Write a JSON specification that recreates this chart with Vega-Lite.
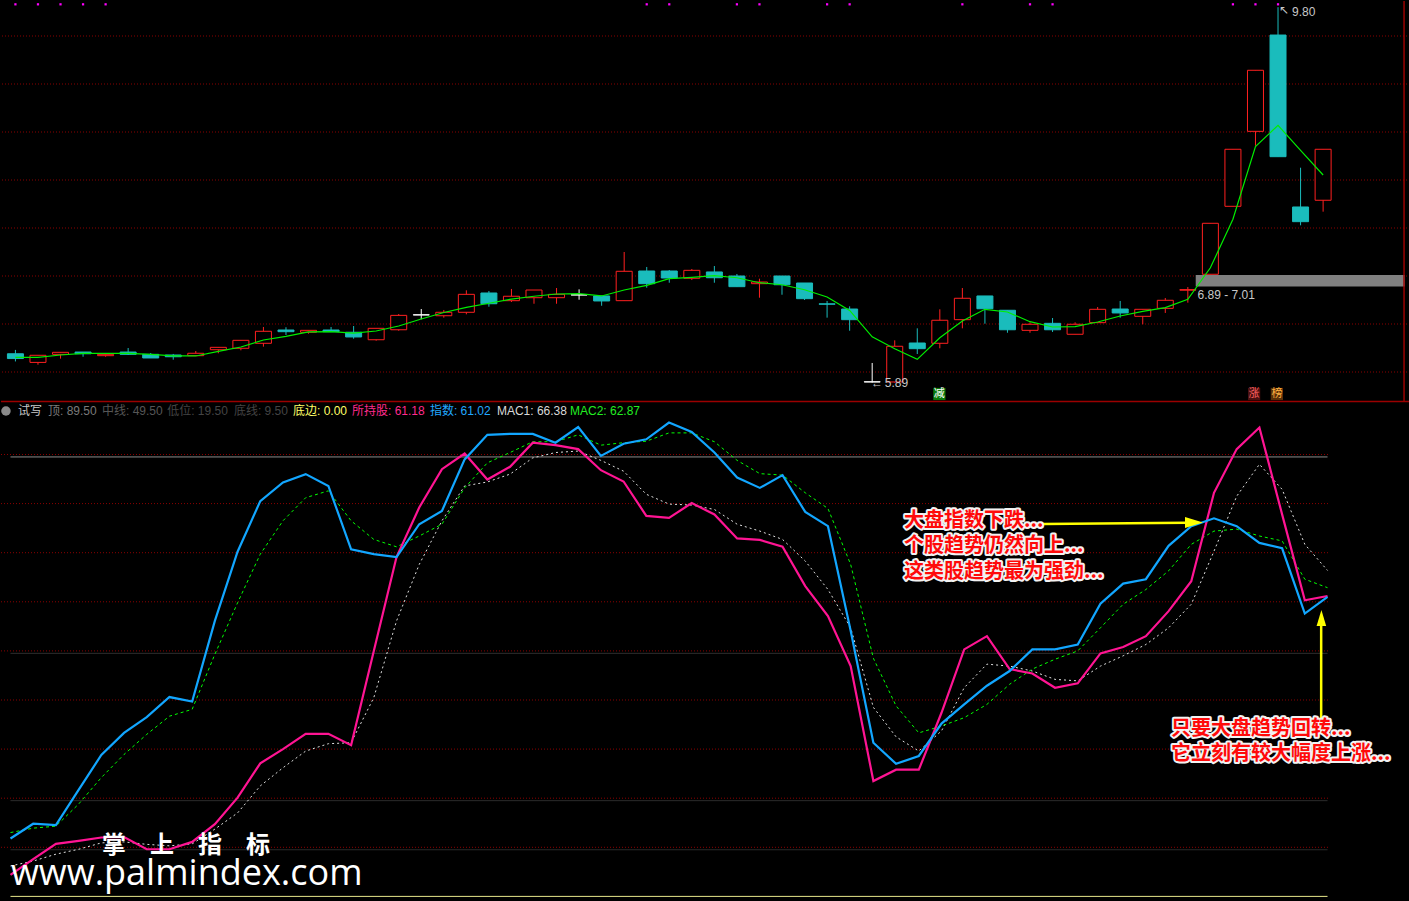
{
  "$schema": "https://vega.github.io/schema/vega-lite/v6.json",
  "background": "#000000",
  "padding": 0,
  "spacing": 0,
  "bounds": "flush",
  "config": {"view": {"stroke": null}, "concat": {"spacing": 0}},
  "datasets": {
    "k": [
      {"i":0,"o":6.19,"c":6.14,"h":6.23,"l":6.11,"d":"down","ma":6.153},
      {"i":1,"o":6.10,"c":6.174,"h":6.174,"l":6.076,"d":"up","ma":6.153},
      {"i":2,"o":6.184,"c":6.205,"h":6.205,"l":6.139,"d":"up","ma":6.177},
      {"i":3,"o":6.208,"c":6.19,"h":6.208,"l":6.159,"d":"down","ma":6.195},
      {"i":4,"o":6.17,"c":6.184,"h":6.184,"l":6.159,"d":"up","ma":6.195},
      {"i":5,"o":6.208,"c":6.184,"h":6.25,"l":6.177,"d":"down","ma":6.195},
      {"i":6,"o":6.184,"c":6.146,"h":6.198,"l":6.146,"d":"down","ma":6.184},
      {"i":7,"o":6.177,"c":6.159,"h":6.188,"l":6.128,"d":"down","ma":6.167},
      {"i":8,"o":6.17,"c":6.195,"h":6.219,"l":6.17,"d":"up","ma":6.167},
      {"i":9,"o":6.232,"c":6.257,"h":6.257,"l":6.195,"d":"up","ma":6.214},
      {"i":10,"o":6.247,"c":6.33,"h":6.33,"l":6.226,"d":"up","ma":6.26},
      {"i":11,"o":6.299,"c":6.424,"h":6.469,"l":6.264,"d":"up","ma":6.333},
      {"i":12,"o":6.4375,"c":6.42,"h":6.466,"l":6.385,"d":"down","ma":6.372},
      {"i":13,"o":6.414,"c":6.434,"h":6.434,"l":6.399,"d":"up","ma":6.417},
      {"i":14,"o":6.4375,"c":6.42,"h":6.469,"l":6.42,"d":"down","ma":6.42},
      {"i":15,"o":6.414,"c":6.365,"h":6.479,"l":6.347,"d":"down","ma":6.406},
      {"i":16,"o":6.336,"c":6.455,"h":6.455,"l":6.326,"d":"up","ma":6.427},
      {"i":17,"o":6.44,"c":6.59,"h":6.604,"l":6.43,"d":"up","ma":6.479},
      {"i":18,"o":6.594,"c":6.596,"h":6.656,"l":6.549,"d":"flat","ma":6.552},
      {"i":19,"o":6.586,"c":6.622,"h":6.646,"l":6.566,"d":"up","ma":6.62},
      {"i":20,"o":6.622,"c":6.809,"h":6.851,"l":6.601,"d":"up","ma":6.674},
      {"i":21,"o":6.823,"c":6.711,"h":6.844,"l":6.68,"d":"down","ma":6.716},
      {"i":22,"o":6.743,"c":6.789,"h":6.865,"l":6.729,"d":"up","ma":6.76},
      {"i":23,"o":6.774,"c":6.854,"h":6.854,"l":6.711,"d":"up","ma":6.789},
      {"i":24,"o":6.774,"c":6.809,"h":6.875,"l":6.711,"d":"up","ma":6.8125},
      {"i":25,"o":6.802,"c":6.804,"h":6.861,"l":6.753,"d":"flat","ma":6.816},
      {"i":26,"o":6.792,"c":6.74,"h":6.792,"l":6.69,"d":"down","ma":6.792},
      {"i":27,"o":6.743,"c":7.049,"h":7.25,"l":6.743,"d":"up","ma":6.854},
      {"i":28,"o":7.052,"c":6.92,"h":7.094,"l":6.878,"d":"down","ma":6.903},
      {"i":29,"o":7.052,"c":6.979,"h":7.0625,"l":6.93,"d":"down","ma":6.972},
      {"i":30,"o":6.976,"c":7.059,"h":7.073,"l":6.958,"d":"up","ma":6.986},
      {"i":31,"o":7.042,"c":6.982,"h":7.104,"l":6.93,"d":"down","ma":7.003},
      {"i":32,"o":7.0,"c":6.889,"h":7.021,"l":6.889,"d":"down","ma":6.982},
      {"i":33,"o":6.92,"c":6.9375,"h":6.972,"l":6.774,"d":"up","ma":6.93},
      {"i":34,"o":7.0,"c":6.909,"h":7.0,"l":6.805,"d":"down","ma":6.909},
      {"i":35,"o":6.927,"c":6.764,"h":6.927,"l":6.75,"d":"down","ma":6.857},
      {"i":36,"o":6.71,"c":6.706,"h":6.74,"l":6.566,"d":"down","ma":6.781},
      {"i":37,"o":6.656,"c":6.545,"h":6.684,"l":6.43,"d":"down","ma":6.641},
      {"i":38,"o":5.898,"c":5.896,"h":6.094,"l":5.89,"d":"flat","ma":6.367},
      {"i":39,"o":5.896,"c":6.268,"h":6.33,"l":5.89,"d":"up","ma":6.243},
      {"i":40,"o":6.302,"c":6.243,"h":6.455,"l":6.1875,"d":"down","ma":6.132},
      {"i":41,"o":6.299,"c":6.539,"h":6.653,"l":6.247,"d":"up","ma":6.357},
      {"i":42,"o":6.545,"c":6.768,"h":6.875,"l":6.455,"d":"up","ma":6.531},
      {"i":43,"o":6.792,"c":6.659,"h":6.792,"l":6.503,"d":"down","ma":6.653},
      {"i":44,"o":6.643,"c":6.44,"h":6.643,"l":6.409,"d":"down","ma":6.625},
      {"i":45,"o":6.434,"c":6.497,"h":6.517,"l":6.409,"d":"up","ma":6.524},
      {"i":46,"o":6.507,"c":6.44,"h":6.5625,"l":6.417,"d":"down","ma":6.469},
      {"i":47,"o":6.393,"c":6.497,"h":6.517,"l":6.393,"d":"up","ma":6.472},
      {"i":48,"o":6.514,"c":6.653,"h":6.677,"l":6.514,"d":"up","ma":6.521},
      {"i":49,"o":6.656,"c":6.615,"h":6.74,"l":6.566,"d":"down","ma":6.583},
      {"i":50,"o":6.58,"c":6.653,"h":6.653,"l":6.497,"d":"up","ma":6.632},
      {"i":51,"o":6.663,"c":6.747,"h":6.771,"l":6.615,"d":"up","ma":6.67},
      {"i":52,"o":6.852,"c":6.858,"h":6.885,"l":6.722,"d":"up","ma":6.757},
      {"i":53,"o":7.018,"c":7.549,"h":7.549,"l":7.018,"d":"up","ma":7.086},
      {"i":54,"o":7.726,"c":8.32,"h":8.32,"l":7.726,"d":"up","ma":7.591},
      {"i":55,"o":8.507,"c":9.143,"h":9.143,"l":8.357,"d":"up","ma":8.347},
      {"i":56,"o":9.51,"c":8.243,"h":9.80,"l":8.243,"d":"down","ma":8.57},
      {"i":57,"o":7.719,"c":7.566,"h":8.128,"l":7.528,"d":"down","ma":8.309},
      {"i":58,"o":7.789,"c":8.32,"h":8.32,"l":7.67,"d":"up","ma":8.052}
    ],
    "ind": [
      {"i":0,"s":4.4,"z":11.8,"m1":6.2,"m2":13.0},
      {"i":1,"s":7.6,"z":14.8,"m1":7.2,"m2":13.9},
      {"i":2,"s":10.7,"z":14.5,"m1":8.6,"m2":14.3},
      {"i":3,"s":11.3,"z":21.7,"m1":9.6,"m2":18.8},
      {"i":4,"s":12.0,"z":28.8,"m1":10.9,"m2":24.2},
      {"i":5,"s":12.1,"z":33.3,"m1":11.1,"m2":28.9},
      {"i":6,"s":9.6,"z":36.5,"m1":10.6,"m2":33.0},
      {"i":7,"s":9.6,"z":40.6,"m1":10.3,"m2":36.7},
      {"i":8,"s":11.1,"z":39.7,"m1":10.7,"m2":38.1},
      {"i":9,"s":14.7,"z":56.1,"m1":13.7,"m2":49.3},
      {"i":10,"s":20.1,"z":70.2,"m1":17.0,"m2":59.8},
      {"i":11,"s":27.1,"z":80.5,"m1":22.5,"m2":69.7},
      {"i":12,"s":30.0,"z":84.3,"m1":26.2,"m2":76.5},
      {"i":13,"s":33.1,"z":86.0,"m1":29.6,"m2":81.2},
      {"i":14,"s":33.1,"z":83.6,"m1":31.1,"m2":82.6},
      {"i":15,"s":30.8,"z":70.7,"m1":31.3,"m2":76.5},
      {"i":16,"s":50.0,"z":69.7,"m1":40.5,"m2":72.7},
      {"i":17,"s":69.1,"z":69.1,"m1":56.1,"m2":71.2},
      {"i":18,"s":79.2,"z":75.8,"m1":67.6,"m2":73.4},
      {"i":19,"s":87.0,"z":78.5,"m1":76.5,"m2":75.8},
      {"i":20,"s":90.2,"z":89.0,"m1":83.6,"m2":83.2},
      {"i":21,"s":84.9,"z":94.0,"m1":84.4,"m2":88.3},
      {"i":22,"s":87.5,"z":94.2,"m1":86.0,"m2":90.4},
      {"i":23,"s":92.4,"z":94.2,"m1":89.3,"m2":92.6},
      {"i":24,"s":91.9,"z":92.4,"m1":90.4,"m2":92.6},
      {"i":25,"s":91.1,"z":95.6,"m1":90.7,"m2":94.0},
      {"i":26,"s":86.8,"z":89.7,"m1":88.8,"m2":91.9},
      {"i":27,"s":84.5,"z":92.2,"m1":86.6,"m2":92.4},
      {"i":28,"s":77.5,"z":93.1,"m1":81.9,"m2":92.7},
      {"i":29,"s":77.1,"z":96.5,"m1":79.9,"m2":94.4},
      {"i":30,"s":80.1,"z":94.6,"m1":79.7,"m2":94.4},
      {"i":31,"s":77.8,"z":90.4,"m1":78.8,"m2":92.6},
      {"i":32,"s":72.9,"z":85.3,"m1":75.8,"m2":88.8},
      {"i":33,"s":72.6,"z":83.2,"m1":74.4,"m2":86.1},
      {"i":34,"s":71.2,"z":85.8,"m1":72.7,"m2":85.8},
      {"i":35,"s":63.2,"z":78.3,"m1":68.3,"m2":82.2},
      {"i":36,"s":57.1,"z":75.4,"m1":62.5,"m2":79.0},
      {"i":37,"s":46.9,"z":54.1,"m1":54.7,"m2":67.6},
      {"i":38,"s":23.5,"z":31.3,"m1":38.5,"m2":48.5},
      {"i":39,"s":25.8,"z":27.0,"m1":32.5,"m2":38.8},
      {"i":40,"s":25.8,"z":28.6,"m1":29.6,"m2":33.3},
      {"i":41,"s":37.4,"z":35.2,"m1":33.7,"m2":34.7},
      {"i":42,"s":50.3,"z":39.1,"m1":42.5,"m2":36.4},
      {"i":43,"s":53.0,"z":42.9,"m1":47.3,"m2":39.1},
      {"i":44,"s":46.3,"z":45.9,"m1":46.9,"m2":43.2},
      {"i":45,"s":45.4,"z":50.3,"m1":45.9,"m2":46.3},
      {"i":46,"s":42.5,"z":50.3,"m1":44.2,"m2":48.3},
      {"i":47,"s":43.4,"z":51.3,"m1":43.9,"m2":50.0},
      {"i":48,"s":49.5,"z":59.6,"m1":46.9,"m2":54.7},
      {"i":49,"s":50.8,"z":63.7,"m1":49.0,"m2":59.5},
      {"i":50,"s":53.0,"z":64.6,"m1":51.3,"m2":62.5},
      {"i":51,"s":58.1,"z":71.4,"m1":54.7,"m2":66.3},
      {"i":52,"s":64.2,"z":75.4,"m1":59.5,"m2":71.7},
      {"i":53,"s":82.2,"z":77.0,"m1":70.3,"m2":74.4},
      {"i":54,"s":91.1,"z":75.4,"m1":81.5,"m2":74.8},
      {"i":55,"s":95.5,"z":72.0,"m1":88.0,"m2":73.4},
      {"i":56,"s":77.8,"z":70.9,"m1":82.9,"m2":72.4},
      {"i":57,"s":60.3,"z":57.6,"m1":71.7,"m2":64.6},
      {"i":58,"s":61.18,"z":61.02,"m1":66.38,"m2":62.87}
    ],
    "pg": [{"p":6.0},{"p":6.5},{"p":7.0},{"p":7.5},{"p":8.0},{"p":8.5},{"p":9.0},{"p":9.5}],
    "ig": [{"v":10},{"v":20},{"v":30},{"v":40},{"v":50},{"v":60},{"v":70},{"v":80},{"v":90}],
    "lv": [{"v":89.5,"k":"top"},{"v":49.5,"k":"mid"},{"v":19.5,"k":"low"},{"v":9.5,"k":"low"},{"v":0,"k":"base"}],
    "mk": [{"i":0},{"i":1},{"i":2},{"i":3},{"i":4},{"i":28},{"i":29},{"i":32},{"i":33},{"i":36},{"i":37},{"i":42},{"i":45},{"i":46},{"i":54},{"i":55},{"i":56}],
    "hdr": [
      {"i":0.33,"t":"试写","k":"a"},
      {"i":1.65,"t":"顶: 89.50","k":"g1"},
      {"i":4.03,"t":"中线: 49.50","k":"g2"},
      {"i":6.9,"t":"低位: 19.50","k":"g3"},
      {"i":9.84,"t":"底线: 9.50","k":"g3"},
      {"i":12.44,"t":"底边: 0.00","k":"y"},
      {"i":15.04,"t":"所持股: 61.18","k":"m"},
      {"i":18.47,"t":"指数: 61.02","k":"b"},
      {"i":21.42,"t":"MAC1: 66.38","k":"w"},
      {"i":24.64,"t":"MAC2: 62.87","k":"g"}
    ],
    "ann": [
      {"i":39.35,"v":76.45,"t":"大盘指数下跌..."},
      {"i":39.35,"v":71.36,"t":"个股趋势仍然向上..."},
      {"i":39.35,"v":66.07,"t":"这类股趋势最为强劲..."},
      {"i":51.11,"v":34.09,"t":"只要大盘趋势回转..."},
      {"i":51.11,"v":29.0,"t":"它立刻有较大幅度上涨..."}
    ],
    "tags": [
      {"i":40.98,"t":"减","k":"jian"},
      {"i":54.94,"t":"涨","k":"zhang"},
      {"i":55.95,"t":"榜","k":"bang"}
    ]
  },
  "vconcat": [
    {
      "width": 1409,
      "height": 401,
      "resolve": {"scale": {"color": "independent", "fill": "independent", "stroke": "independent"}},
      "layer": [
        {
          "data": {"name": "pg"},
          "mark": {"type": "rule", "color": "#8a0000", "strokeWidth": 1, "strokeDash": [1, 2]},
          "encoding": {
            "y": {"field": "p", "type": "quantitative", "scale": {"domain": [5.6875, 9.8646], "nice": false, "zero": false}, "axis": null}
          }
        },
        {
          "data": {"values": [{"a": 52.35, "b": 61.632, "lo": 6.89, "hi": 7.01}]},
          "mark": {"type": "rect", "color": "#808080"},
          "encoding": {
            "x": {"field": "a", "type": "quantitative", "scale": {"domain": [-0.418, 61.632], "nice": false, "zero": false}, "axis": null},
            "x2": {"field": "b"},
            "y": {"field": "lo", "type": "quantitative", "scale": {"domain": [5.6875, 9.8646], "nice": false, "zero": false}, "axis": null},
            "y2": {"field": "hi"}
          }
        },
        {
          "data": {"name": "k"},
          "mark": {"type": "rule", "strokeWidth": 1},
          "encoding": {
            "x": {"field": "i", "type": "quantitative", "scale": {"domain": [-0.418, 61.632], "nice": false, "zero": false}, "axis": null},
            "y": {"field": "l", "type": "quantitative", "scale": {"domain": [5.6875, 9.8646], "nice": false, "zero": false}, "axis": null},
            "y2": {"field": "h"},
            "color": {"field": "d", "type": "nominal", "scale": {"domain": ["up", "down", "flat"], "range": ["#ff2020", "#1abcbc", "#ffffff"]}, "legend": null}
          }
        },
        {
          "data": {"name": "k"},
          "mark": {"type": "bar", "size": 16, "strokeWidth": 1},
          "encoding": {
            "x": {"field": "i", "type": "quantitative", "scale": {"domain": [-0.418, 61.632], "nice": false, "zero": false}, "axis": null},
            "y": {"field": "o", "type": "quantitative", "scale": {"domain": [5.6875, 9.8646], "nice": false, "zero": false}, "axis": null},
            "y2": {"field": "c"},
            "fill": {"field": "d", "type": "nominal", "scale": {"domain": ["up", "down", "flat"], "range": ["#000000", "#1abcbc", "#ffffff"]}, "legend": null},
            "stroke": {"field": "d", "type": "nominal", "scale": {"domain": ["up", "down", "flat"], "range": ["#ff2020", "#1abcbc", "#ffffff"]}, "legend": null}
          }
        },
        {
          "data": {"name": "k"},
          "mark": {"type": "line", "color": "#00ee00", "strokeWidth": 1.2},
          "encoding": {
            "x": {"field": "i", "type": "quantitative", "scale": {"domain": [-0.418, 61.632], "nice": false, "zero": false}, "axis": null},
            "y": {"field": "ma", "type": "quantitative", "scale": {"domain": [5.6875, 9.8646], "nice": false, "zero": false}, "axis": null}
          }
        },
        {
          "data": {"name": "mk"},
          "mark": {"type": "point", "shape": "square", "filled": true, "size": 5, "color": "#ff00ff", "opacity": 1},
          "encoding": {
            "x": {"field": "i", "type": "quantitative", "scale": {"domain": [-0.418, 61.632], "nice": false, "zero": false}, "axis": null},
            "y": {"datum": 9.83, "type": "quantitative", "scale": {"domain": [5.6875, 9.8646], "nice": false, "zero": false}, "axis": null}
          }
        },
        {
          "data": {"values": [
            {"i": 56.05, "p": 9.775, "t": "↖"},
            {"i": 56.62, "p": 9.752, "t": "9.80"},
            {"i": 37.95, "p": 5.885, "t": "←"},
            {"i": 38.56, "p": 5.885, "t": "5.89"},
            {"i": 52.43, "p": 6.802, "t": "6.89 - 7.01"}
          ]},
          "mark": {"type": "text", "align": "left", "baseline": "middle", "font": "Liberation Sans", "fontSize": 12, "color": "#c8c8c8"},
          "encoding": {
            "x": {"field": "i", "type": "quantitative", "scale": {"domain": [-0.418, 61.632], "nice": false, "zero": false}, "axis": null},
            "y": {"field": "p", "type": "quantitative", "scale": {"domain": [5.6875, 9.8646], "nice": false, "zero": false}, "axis": null},
            "text": {"field": "t"}
          }
        },
        {
          "data": {"name": "tags"},
          "mark": {"type": "point", "shape": "square", "filled": true, "size": 150, "opacity": 1},
          "encoding": {
            "x": {"field": "i", "type": "quantitative", "scale": {"domain": [-0.418, 61.632], "nice": false, "zero": false}, "axis": null},
            "y": {"datum": 5.771, "type": "quantitative", "scale": {"domain": [5.6875, 9.8646], "nice": false, "zero": false}, "axis": null},
            "color": {"field": "k", "type": "nominal", "scale": {"domain": ["jian", "zhang", "bang"], "range": ["#0a7a0a", "#4a1010", "#5a3008"]}, "legend": null}
          }
        },
        {
          "data": {"name": "tags"},
          "mark": {"type": "text", "align": "center", "baseline": "middle", "font": "Noto Sans CJK SC", "fontSize": 11},
          "encoding": {
            "x": {"field": "i", "type": "quantitative", "scale": {"domain": [-0.418, 61.632], "nice": false, "zero": false}, "axis": null},
            "y": {"datum": 5.771, "type": "quantitative", "scale": {"domain": [5.6875, 9.8646], "nice": false, "zero": false}, "axis": null},
            "text": {"field": "t"},
            "color": {"field": "k", "type": "nominal", "scale": {"domain": ["jian", "zhang", "bang"], "range": ["#ffffff", "#ff6060", "#ffb040"]}, "legend": null}
          }
        },
        {
          "data": {"values": [{}]},
          "mark": {"type": "rule", "color": "#9b0000", "strokeWidth": 1.5},
          "encoding": {
            "y": {"datum": 5.692, "type": "quantitative", "scale": {"domain": [5.6875, 9.8646], "nice": false, "zero": false}, "axis": null}
          }
        },
        {
          "data": {"values": [{}]},
          "mark": {"type": "rule", "color": "#9b0000", "strokeWidth": 1.5},
          "encoding": {
            "x": {"datum": 61.59, "type": "quantitative", "scale": {"domain": [-0.418, 61.632], "nice": false, "zero": false}, "axis": null}
          }
        }
      ]
    },
    {
      "width": 1409,
      "height": 500,
      "resolve": {"scale": {"color": "independent"}},
      "layer": [
        {
          "data": {"name": "ig"},
          "mark": {"type": "rule", "color": "#8a0000", "strokeWidth": 1, "strokeDash": [1, 2]},
          "encoding": {
            "x": {"datum": -0.418, "type": "quantitative", "scale": {"domain": [-0.418, 61.632], "nice": false, "zero": false}, "axis": null},
            "x2": {"datum": 58.04},
            "y": {"field": "v", "type": "quantitative", "scale": {"domain": [-1.14, 100.69], "nice": false, "zero": false}, "axis": null}
          }
        },
        {
          "data": {"name": "lv"},
          "mark": {"type": "rule", "strokeWidth": 1},
          "encoding": {
            "x": {"datum": 0, "type": "quantitative", "scale": {"domain": [-0.418, 61.632], "nice": false, "zero": false}, "axis": null},
            "x2": {"datum": 58},
            "y": {"field": "v", "type": "quantitative", "scale": {"domain": [-1.14, 100.69], "nice": false, "zero": false}, "axis": null},
            "color": {"field": "k", "type": "nominal", "scale": {"domain": ["top", "mid", "low", "base"], "range": ["#8c8c8c", "#2e2e2e", "#2a2a2a", "#e6e68a"]}, "legend": null}
          }
        },
        {
          "data": {"name": "ind"},
          "mark": {"type": "line", "color": "#e0e0e0", "strokeWidth": 1, "strokeDash": [2, 3]},
          "encoding": {
            "x": {"field": "i", "type": "quantitative", "scale": {"domain": [-0.418, 61.632], "nice": false, "zero": false}, "axis": null},
            "y": {"field": "m1", "type": "quantitative", "scale": {"domain": [-1.14, 100.69], "nice": false, "zero": false}, "axis": null}
          }
        },
        {
          "data": {"name": "ind"},
          "mark": {"type": "line", "color": "#00ff00", "strokeWidth": 1, "strokeDash": [3, 3]},
          "encoding": {
            "x": {"field": "i", "type": "quantitative", "scale": {"domain": [-0.418, 61.632], "nice": false, "zero": false}, "axis": null},
            "y": {"field": "m2", "type": "quantitative", "scale": {"domain": [-1.14, 100.69], "nice": false, "zero": false}, "axis": null}
          }
        },
        {
          "data": {"name": "ind"},
          "mark": {"type": "line", "color": "#ff1493", "strokeWidth": 2.2},
          "encoding": {
            "x": {"field": "i", "type": "quantitative", "scale": {"domain": [-0.418, 61.632], "nice": false, "zero": false}, "axis": null},
            "y": {"field": "s", "type": "quantitative", "scale": {"domain": [-1.14, 100.69], "nice": false, "zero": false}, "axis": null}
          }
        },
        {
          "data": {"name": "ind"},
          "mark": {"type": "line", "color": "#12a6ff", "strokeWidth": 2.2},
          "encoding": {
            "x": {"field": "i", "type": "quantitative", "scale": {"domain": [-0.418, 61.632], "nice": false, "zero": false}, "axis": null},
            "y": {"field": "z", "type": "quantitative", "scale": {"domain": [-1.14, 100.69], "nice": false, "zero": false}, "axis": null}
          }
        },
        {
          "data": {"values": [{}]},
          "mark": {"type": "point", "shape": "circle", "filled": true, "size": 90, "color": "#8a8a8a", "opacity": 1},
          "encoding": {
            "x": {"datum": -0.2, "type": "quantitative", "scale": {"domain": [-0.418, 61.632], "nice": false, "zero": false}, "axis": null},
            "y": {"datum": 98.86, "type": "quantitative", "scale": {"domain": [-1.14, 100.69], "nice": false, "zero": false}, "axis": null}
          }
        },
        {
          "data": {"name": "hdr"},
          "mark": {"type": "text", "align": "left", "baseline": "middle", "font": "Liberation Sans, Noto Sans CJK SC", "fontSize": 12},
          "encoding": {
            "x": {"field": "i", "type": "quantitative", "scale": {"domain": [-0.418, 61.632], "nice": false, "zero": false}, "axis": null},
            "y": {"datum": 98.86, "type": "quantitative", "scale": {"domain": [-1.14, 100.69], "nice": false, "zero": false}, "axis": null},
            "text": {"field": "t"},
            "color": {"field": "k", "type": "nominal", "scale": {"domain": ["a", "g1", "g2", "g3", "y", "m", "b", "w", "g"], "range": ["#c8c8c8", "#7a7a7a", "#565656", "#444444", "#ffff66", "#ff2a8c", "#22a8ff", "#d8d8d8", "#22ee22"]}, "legend": null}
          }
        },
        {
          "data": {"values": [{"a": 45.47, "b": 51.8, "y1": 75.86, "y2": 76.11}]},
          "mark": {"type": "rule", "color": "#ffff00", "strokeWidth": 2.5},
          "encoding": {
            "x": {"field": "a", "type": "quantitative", "scale": {"domain": [-0.418, 61.632], "nice": false, "zero": false}, "axis": null},
            "x2": {"field": "b"},
            "y": {"field": "y1", "type": "quantitative", "scale": {"domain": [-1.14, 100.69], "nice": false, "zero": false}, "axis": null},
            "y2": {"field": "y2"}
          }
        },
        {
          "data": {"values": [{"a": 57.72, "y1": 36.33, "y2": 55.07}]},
          "mark": {"type": "rule", "color": "#ffff00", "strokeWidth": 2.5},
          "encoding": {
            "x": {"field": "a", "type": "quantitative", "scale": {"domain": [-0.418, 61.632], "nice": false, "zero": false}, "axis": null},
            "y": {"field": "y1", "type": "quantitative", "scale": {"domain": [-1.14, 100.69], "nice": false, "zero": false}, "axis": null},
            "y2": {"field": "y2"}
          }
        },
        {
          "data": {"values": [{"a": 52.12, "v": 76.15}]},
          "mark": {"type": "point", "shape": "M -1 -0.6 L 1 0 L -1 0.6 Z", "filled": true, "size": 324, "color": "#ffff00", "opacity": 1},
          "encoding": {
            "x": {"field": "a", "type": "quantitative", "scale": {"domain": [-0.418, 61.632], "nice": false, "zero": false}, "axis": null},
            "y": {"field": "v", "type": "quantitative", "scale": {"domain": [-1.14, 100.69], "nice": false, "zero": false}, "axis": null}
          }
        },
        {
          "data": {"values": [{"a": 57.73, "v": 56.7}]},
          "mark": {"type": "point", "shape": "M -0.6 1 L 0 -1 L 0.6 1 Z", "filled": true, "size": 256, "color": "#ffff00", "opacity": 1},
          "encoding": {
            "x": {"field": "a", "type": "quantitative", "scale": {"domain": [-0.418, 61.632], "nice": false, "zero": false}, "axis": null},
            "y": {"field": "v", "type": "quantitative", "scale": {"domain": [-1.14, 100.69], "nice": false, "zero": false}, "axis": null}
          }
        },
        {
          "data": {"name": "ann"},
          "mark": {"type": "text", "align": "left", "baseline": "middle", "font": "Noto Sans CJK SC", "fontSize": 20, "fontWeight": "bold", "color": "#ffffff", "stroke": "#ffffff", "strokeWidth": 4, "strokeJoin": "round", "opacity": 0.95},
          "encoding": {
            "x": {"field": "i", "type": "quantitative", "scale": {"domain": [-0.418, 61.632], "nice": false, "zero": false}, "axis": null},
            "y": {"field": "v", "type": "quantitative", "scale": {"domain": [-1.14, 100.69], "nice": false, "zero": false}, "axis": null},
            "text": {"field": "t"}
          }
        },
        {
          "data": {"name": "ann"},
          "mark": {"type": "text", "align": "left", "baseline": "middle", "font": "Noto Sans CJK SC", "fontSize": 20, "fontWeight": "bold", "color": "#ff0a0a"},
          "encoding": {
            "x": {"field": "i", "type": "quantitative", "scale": {"domain": [-0.418, 61.632], "nice": false, "zero": false}, "axis": null},
            "y": {"field": "v", "type": "quantitative", "scale": {"domain": [-1.14, 100.69], "nice": false, "zero": false}, "axis": null},
            "text": {"field": "t"}
          }
        },
        {
          "data": {"values": [{"i": 4.03, "v": 10.26, "t": "掌　上　指　标"}]},
          "mark": {"type": "text", "align": "left", "baseline": "middle", "font": "Noto Sans CJK SC", "fontSize": 24, "fontWeight": "bold", "color": "#ffffff"},
          "encoding": {
            "x": {"field": "i", "type": "quantitative", "scale": {"domain": [-0.418, 61.632], "nice": false, "zero": false}, "axis": null},
            "y": {"field": "v", "type": "quantitative", "scale": {"domain": [-1.14, 100.69], "nice": false, "zero": false}, "axis": null},
            "text": {"field": "t"}
          }
        },
        {
          "data": {"values": [{"i": 0.02, "v": 4.58, "t": "www.palmindex.com"}]},
          "mark": {"type": "text", "align": "left", "baseline": "middle", "font": "Open Sans", "fontSize": 36, "color": "#ffffff"},
          "encoding": {
            "x": {"field": "i", "type": "quantitative", "scale": {"domain": [-0.418, 61.632], "nice": false, "zero": false}, "axis": null},
            "y": {"field": "v", "type": "quantitative", "scale": {"domain": [-1.14, 100.69], "nice": false, "zero": false}, "axis": null},
            "text": {"field": "t"}
          }
        }
      ]
    }
  ]
}
